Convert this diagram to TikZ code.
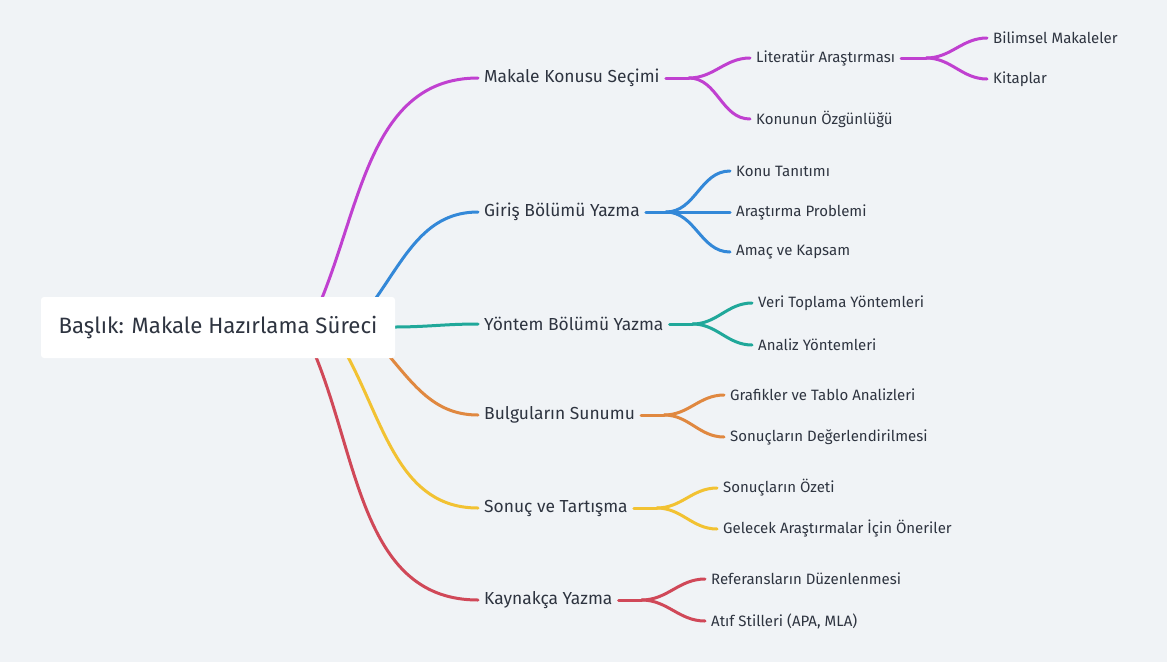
\documentclass[tikz,border=0pt]{standalone}
\usepackage{fontspec}
\setmainfont{Fira Sans}
\definecolor{bg}{HTML}{F0F3F6}
\definecolor{txt}{HTML}{2E3440}
\definecolor{cP}{HTML}{C040D0}
\definecolor{cB}{HTML}{3388D8}
\definecolor{cT}{HTML}{20A89A}
\definecolor{cO}{HTML}{E08840}
\definecolor{cY}{HTML}{F2C232}
\definecolor{cR}{HTML}{D04858}
\tikzset{
 lone/.style={anchor=west,inner xsep=6pt,inner ysep=2pt,text=txt,font=\fontsize{17.4}{20}\selectfont},
 ltwo/.style={anchor=west,inner xsep=6pt,inner ysep=2pt,text=txt,font=\fontsize{15}{18}\selectfont},
 br/.style={line width=3pt,line cap=round},
}
\begin{document}
\begin{tikzpicture}[x=1pt,y=-1pt]
\fill[bg] (0,0) rectangle (1167,662);
\useasboundingbox (0,0) rectangle (1167,662);
% level 1 nodes
\node[lone] (m) at (478,78) {Makale Konusu Seçimi};
\node[lone] (g) at (478,212) {Giriş Bölümü Yazma};
\node[lone] (y) at (478,324) {Yöntem Bölümü Yazma};
\node[lone] (b) at (478,415) {Bulguların Sunumu};
\node[lone] (s) at (478,508) {Sonuç ve Tartışma};
\node[lone] (k) at (478,600) {Kaynakça Yazma};
% root curves
\coordinate (rp) at (322,298);
\coordinate (rb) at (376,298);
\coordinate (rt) at (394,327);
\coordinate (ro) at (390,357);
\coordinate (ry) at (348,357);
\coordinate (rr) at (316,357);
\draw[br,cP] (rp) to[out=68,in=180] (m.west);
\draw[br,cB] (rb) to[out=55,in=180] (g.west);
\draw[br,cT] (rt) to[out=0,in=180] (y.west);
\draw[br,cO] (ro) to[out=-50,in=180] (b.west);
\draw[br,cY] (ry) to[out=-62,in=180] (s.west);
\draw[br,cR] (rr) to[out=-68,in=180] (k.west);
\node[fill=white,rounded corners=3pt,minimum width=354pt,minimum height=61pt,text=txt,font=\fontsize{22.2}{26}\selectfont] (root) at (218,327.5) {Başlık: Makale Hazırlama Süreci};
% level 2
\node[ltwo] (m1) at (750,58) {Literatür Araştırması};
\node[ltwo] (m2) at (750,119) {Konunun Özgünlüğü};
\node[ltwo] (m11) at (987,38) {Bilimsel Makaleler};
\node[ltwo] (m12) at (987,79) {Kitaplar};
\node[ltwo] (g1) at (730,171) {Konu Tanıtımı};
\node[ltwo] (g2) at (730,212) {Araştırma Problemi};
\node[ltwo] (g3) at (730,252) {Amaç ve Kapsam};
\node[ltwo] (y1) at (752,303) {Veri Toplama Yöntemleri};
\node[ltwo] (y2) at (752,345) {Analiz Yöntemleri};
\node[ltwo] (b1) at (724,395) {Grafikler ve Tablo Analizleri};
\node[ltwo] (b2) at (724,437) {Sonuçların Değerlendirilmesi};
\node[ltwo] (s1) at (717,488) {Sonuçların Özeti};
\node[ltwo] (s2) at (717,529) {Gelecek Araştırmalar İçin Öneriler};
\node[ltwo] (k1) at (705,579) {Referansların Düzenlenmesi};
\node[ltwo] (k2) at (705,621) {Atıf Stilleri (APA, MLA)};
% branches
\draw[br,cP] (m.east) -- ++(23,0) coordinate (mj);
\draw[br,cP] (mj) to[out=0,in=180] (m1.west);
\draw[br,cP] (mj) to[out=0,in=180] (m2.west);
\draw[br,cP] (m1.east) -- ++(25,0) coordinate (m1j);
\draw[br,cP] (m1j) to[out=0,in=180] (m11.west);
\draw[br,cP] (m1j) to[out=0,in=180] (m12.west);
\draw[br,cB] (g.east) -- ++(20,0) coordinate (gj);
\draw[br,cB] (gj) to[out=0,in=180] (g1.west);
\draw[br,cB] (gj) -- (g2.west);
\draw[br,cB] (gj) to[out=0,in=180] (g3.west);
\draw[br,cT] (y.east) -- ++(23,0) coordinate (yj);
\draw[br,cT] (yj) to[out=0,in=180] (y1.west);
\draw[br,cT] (yj) to[out=0,in=180] (y2.west);
\draw[br,cO] (b.east) -- ++(23,0) coordinate (bj);
\draw[br,cO] (bj) to[out=0,in=180] (b1.west);
\draw[br,cO] (bj) to[out=0,in=180] (b2.west);
\draw[br,cY] (s.east) -- ++(23,0) coordinate (sj);
\draw[br,cY] (sj) to[out=0,in=180] (s1.west);
\draw[br,cY] (sj) to[out=0,in=180] (s2.west);
\draw[br,cR] (k.east) -- ++(23,0) coordinate (kj);
\draw[br,cR] (kj) to[out=0,in=180] (k1.west);
\draw[br,cR] (kj) to[out=0,in=180] (k2.west);
\end{tikzpicture}
\end{document}
